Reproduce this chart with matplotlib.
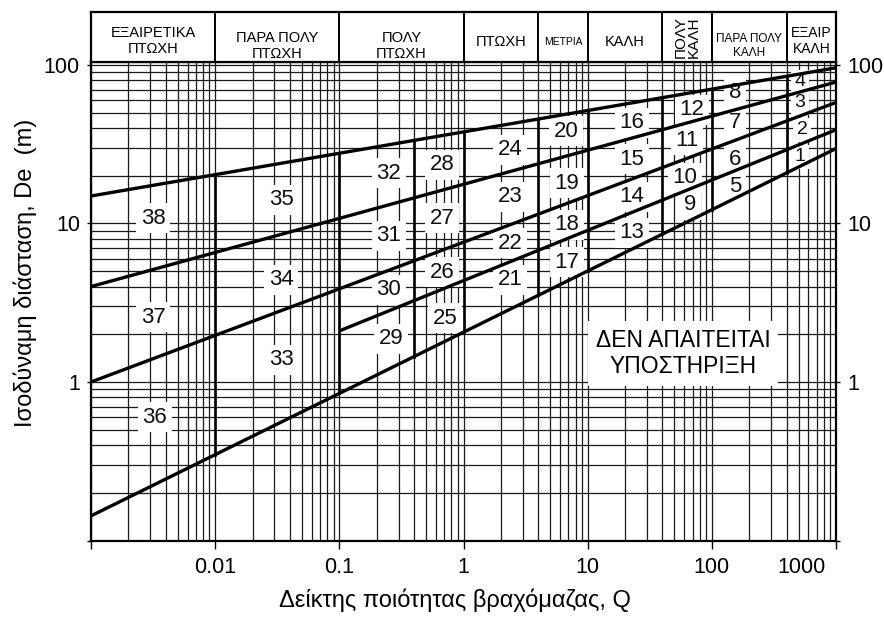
import numpy as np
import matplotlib
matplotlib.use("Agg")
import matplotlib.pyplot as plt
from matplotlib.ticker import LogLocator, FuncFormatter, NullFormatter

plt.rcParams["font.family"] = ["Liberation Sans", "DejaVu Sans"]

# support-category boundary lines: (Q, De) at both ends
line_q0 = [0.001, 0.001, 0.001, 0.1, 0.001]
line_de0 = [14.9, 4.0, 1.0, 2.1, 0.143]
line_q1 = [1000, 1000, 1000, 1000, 1000]
line_de1 = [96, 78, 58, 39, 29.7]

# thick vertical dividers between category columns
divider_q = [0.01, 0.1, 0.4, 1, 4, 10, 40, 100, 400]

# rock quality classes along the top
class_bounds = [0.001, 0.01, 0.1, 1, 4, 10, 40, 100, 400, 1000]
class_names = ["ΕΞΑΙΡΕΤΙΚΑ\nΠΤΩΧΗ", "ΠΑΡΑ ΠΟΛΥ\nΠΤΩΧΗ", "ΠΟΛΥ\nΠΤΩΧΗ", "ΠΤΩΧΗ",
               "ΜΕΤΡΙΑ", "ΚΑΛΗ", "ΠΟΛΥ\nΚΑΛΗ", "ΠΑΡΑ ΠΟΛΥ\nΚΑΛΗ", "ΕΞΑΙΡ\nΚΑΛΗ"]

# support category numbers
cat_ids = [38, 37, 36, 35, 34, 33, 32, 31, 30, 29, 28, 27, 26, 25,
           24, 23, 22, 21, 20, 19, 18, 17, 16, 15, 14, 13,
           12, 11, 10, 9, 8, 7, 6, 5, 4, 3, 2, 1]
cat_q = [0.00316, 0.00316, 0.00327, 0.0339, 0.0339, 0.0339,
         0.251, 0.251, 0.251, 0.261, 0.671, 0.671, 0.671, 0.710,
         2.37, 2.37, 2.37, 2.37, 6.69, 6.82, 6.82, 6.82,
         22.7, 22.7, 22.7, 22.7, 69.2, 63.1, 60.8, 66.7,
         154, 154, 154, 154, 513, 513, 532, 513]
cat_de = [10.8, 2.57, 0.601, 14.1, 4.40, 1.38,
          20.8, 8.34, 3.81, 1.87, 23.4, 10.8, 4.94, 2.53,
          29.1, 14.7, 7.53, 4.40, 38.3, 18.0, 9.79, 5.71,
          43.1, 25.5, 14.7, 8.71, 52.0, 33.6, 19.4, 13.1,
          66.6, 43.1, 25.2, 17.0, 78.1, 57.6, 38.9, 26.3]

no_support_q = 58.6
no_support_de = 1.52

x_ticks = [0.01, 0.1, 1, 10, 100, 1000]
y_ticks = [1, 10, 100]

W, H = 884, 618
fig = plt.figure(figsize=(W / 100, H / 100), dpi=100)
ax = fig.add_axes([91 / W, 1 - 540.5 / H, 745 / W, (540.5 - 61.6) / H])
hax = fig.add_axes([91 / W, 1 - 62 / H, 745 / W, 50 / H])

ax.set_xscale("log")
ax.set_yscale("log")
ax.set_xlim(0.001, 1000)
ax.set_ylim(0.1, 105)

ax.xaxis.set_major_locator(LogLocator(base=10))
ax.xaxis.set_minor_locator(LogLocator(base=10, subs=np.arange(2, 10)))
ax.yaxis.set_major_locator(LogLocator(base=10))
ax.yaxis.set_minor_locator(LogLocator(base=10, subs=np.arange(2, 10)))
ax.grid(True, which="both", color="#1a1a1a", lw=0.9)

def qfmt(v, pos):
    for t in x_ticks[:-1]:
        if np.isclose(v, t):
            return f"{t:g}"
    return ""

def defmt(v, pos):
    for t in y_ticks:
        if np.isclose(v, t):
            return f"{t:g}"
    return ""

ax.xaxis.set_major_formatter(FuncFormatter(qfmt))
ax.xaxis.set_minor_formatter(NullFormatter())
ax.yaxis.set_major_formatter(FuncFormatter(defmt))
ax.yaxis.set_minor_formatter(NullFormatter())
ax.tick_params(which="minor", length=0)
ax.tick_params(axis="x", which="major", direction="out", length=6, width=1, pad=6, labelsize=15.5)
ax.tick_params(axis="y", which="major", direction="out", length=3, width=1, pad=5,
               labelsize=15.5, right=True, labelright=True)
# the last decade label sits inside the axis end
ax.annotate("1000", xy=(532, 0), xycoords=("data", "axes fraction"), xytext=(0, -12),
            textcoords="offset points", ha="center", va="top", fontsize=15.5)

for s in ax.spines.values():
    s.set_linewidth(1.6)

# diagonal boundary lines
for q0, d0, q1, d1 in zip(line_q0, line_de0, line_q1, line_de1):
    ax.plot([q0, q1], [d0, d1], color="black", lw=2.4, solid_capstyle="butt", zorder=4)

# thick dividers run from the top line to the bottom line
def line_at(i, q):
    return 10 ** np.interp(np.log10(q), np.log10([line_q0[i], line_q1[i]]),
                           np.log10([line_de0[i], line_de1[i]]))

for q in divider_q:
    ax.plot([q, q], [line_at(4, q), line_at(0, q)], color="black", lw=1.9, zorder=4)

# number boxes hide the grid but not the heavy lines
box = dict(boxstyle="square,pad=0.2", fc="white", ec="none")
for n, q, d in zip(cat_ids, cat_q, cat_de):
    ax.text(q, d, str(n), ha="center", va="center", fontsize=16 if n > 4 else 14,
            color="#111111", bbox=box, zorder=3)

ax.text(no_support_q, no_support_de, "ΔΕΝ ΑΠΑΙΤΕΙΤΑΙ\nΥΠΟΣΤΗΡΙΞΗ", ha="center", va="center",
        fontsize=16.5, linespacing=1.15, bbox=dict(boxstyle="square,pad=0.35", fc="white", ec="none"),
        zorder=3)

# header strip with the quality classes
hax.set_xscale("log")
hax.set_xlim(0.001, 1000)
hax.set_ylim(0, 1)
hax.set_xticks([])
hax.set_yticks([])
hax.minorticks_off()
for s in hax.spines.values():
    s.set_linewidth(1.6)
for b in class_bounds[1:-1]:
    hax.axvline(b, color="black", lw=1.4)

name_size = [10.5, 10.5, 10.5, 10.5, 7.5, 10.5, 11, 8.5, 10]
name_y = [41, 46, 46, 42, 42, 42, 37, 46, 41]
for i, name in enumerate(class_names):
    xc = np.sqrt(class_bounds[i] * class_bounds[i + 1])
    rot = 90 if name == "ΠΟΛΥ\nΚΑΛΗ" else 0
    hax.text(xc, (62 - name_y[i]) / 50, name, ha="center", va="center", fontsize=name_size[i],
             rotation=rot, linespacing=0.95 if rot else 1.15)

fig.text(455 / W, 1 - 600 / H, "Δείκτης ποιότητας βραχόμαζας, Q", ha="center", va="center", fontsize=17)
fig.text(25 / W, 1 - 273 / H, "Ισοδύναμη διάσταση, De  (m)", ha="center", va="center",
         rotation=90, fontsize=17)

fig.savefig("out.png", dpi=100)
